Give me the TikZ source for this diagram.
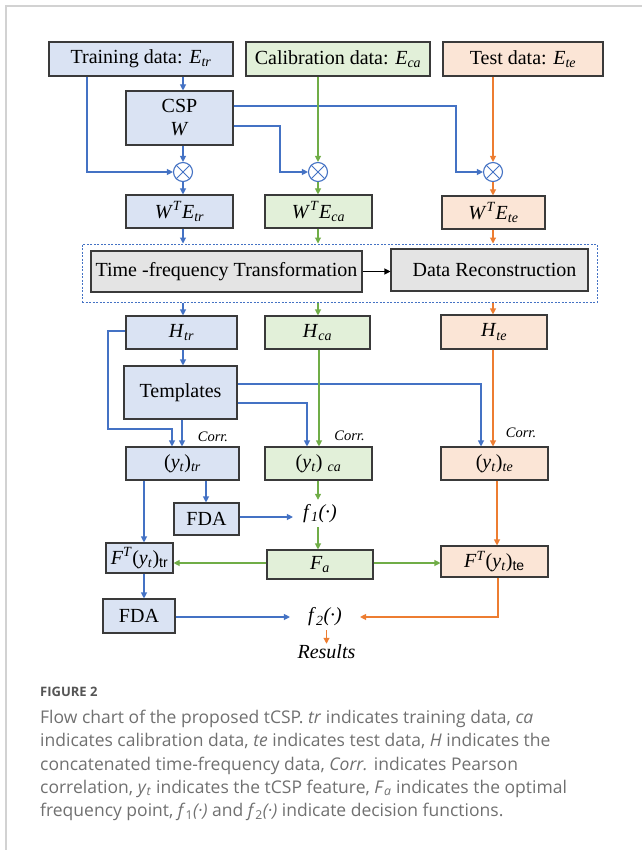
\documentclass[tikz,border=0pt]{standalone}
\usepackage{fontspec}
\setmainfont{Liberation Serif}
\setsansfont{Liberation Sans}
\newfontfamily\capfont{Open Sans}
\usetikzlibrary{arrows.meta,calc}
\definecolor{cblue}{HTML}{4472C4}
\definecolor{cgreen}{HTML}{70AD47}
\definecolor{corange}{HTML}{ED7D31}
\definecolor{fblue}{HTML}{DAE3F3}
\definecolor{fgreen}{HTML}{E2F0D9}
\definecolor{forange}{HTML}{FBE5D6}
\definecolor{fgray}{HTML}{E4E4E4}
\definecolor{boxline}{HTML}{3A3A3A}
\definecolor{framegray}{HTML}{D2D2D2}
\definecolor{captext}{HTML}{707070}
\definecolor{capfigc}{HTML}{555555}
\tikzset{
  box/.style={draw=boxline, line width=1.1pt, inner sep=0pt, font=\fontsize{20}{23}\selectfont, text=black, align=center},
  bbox/.style={box, fill=fblue},
  gbox/.style={box, fill=fgreen},
  obox/.style={box, fill=forange},
  kbox/.style={box, fill=fgray},
  tip/.style={-{Triangle[length=6pt,width=6pt]}},
  ba/.style={draw=cblue, line width=1.1pt, tip},
  ga/.style={draw=cgreen, line width=1.1pt, tip},
  oa/.style={draw=corange, line width=1.1pt, tip},
  ka/.style={draw=black, line width=1.1pt, tip},
  mult/.style={circle, draw=cblue, fill=white, line width=1.1pt, minimum size=19pt, inner sep=0pt},
  corrlab/.style={font=\fontsize{14.5}{16}\selectfont\itshape, inner sep=0pt},
  ftext/.style={font=\fontsize{20}{23}\selectfont, inner ysep=0pt},
  captxt/.style={font=\capfont\fontsize{17.5}{20}\selectfont, text=captext, inner sep=0pt, anchor=base west},
  capfig/.style={font=\capfont\bfseries\fontsize{13}{16}\selectfont, text=capfigc, inner sep=0pt, anchor=base west}
}
\newcommand{\ssub}[1]{\textsubscript{\textit{#1}}}
\newcommand{\ssup}[1]{\textsuperscript{\textit{#1}}}
\begin{document}
\begin{tikzpicture}[x=1pt,y=-1pt]
\useasboundingbox (0,0) rectangle (642,850);
\draw[draw=framegray, line width=1.5pt] (6,850) -- (6,6) -- (642,6);

% top row
\node[bbox, minimum width=184pt, minimum height=34pt] (tr) at (141,59) {Training data: \textit{E}\ssub{tr}};
\node[gbox, minimum width=184pt, minimum height=34pt] (ca) at (338,59) {Calibration data: \textit{E}\ssub{ca}};
\node[obox, minimum width=160pt, minimum height=34pt] (te) at (523,59) {Test data: \textit{E}\ssub{te}};

\node[bbox, minimum width=107pt, minimum height=54pt] (csp) at (179.5,118) {CSP\\\textit{W}};

\node[mult] (c1) at (183,172) {};
\node[mult] (c2) at (318,172) {};
\node[mult] (c3) at (493,172) {};
\foreach \c in {c1,c2,c3}{
  \draw[draw=cblue, line width=1pt] (\c.north east) -- (\c.south west);
  \draw[draw=cblue, line width=1pt] (\c.north west) -- (\c.south east);
}

\node[bbox, minimum width=107pt, minimum height=33pt] (wtr) at (179.5,211.5) {\textit{W}\ssup{T}\textit{E}\ssub{tr}};
\node[gbox, minimum width=107pt, minimum height=33pt] (wca) at (318.5,211.5) {\textit{W}\ssup{T}\textit{E}\ssub{ca}};
\node[obox, minimum width=103pt, minimum height=33pt] (wte) at (493.5,212.5) {\textit{W}\ssup{T}\textit{E}\ssub{te}};

% processing block
\node[draw=cblue, line width=1pt, dash pattern=on 2pt off 1.5pt, minimum width=515pt, minimum height=58pt, inner sep=0pt] (proc) at (339.5,273) {};
\node[kbox, minimum width=271pt, minimum height=41pt] (tf) at (226.5,271.5) {Time -frequency Transformation};
\node[kbox, minimum width=197pt, minimum height=42pt] (dr) at (489.5,270) {\hspace{10pt}Data Reconstruction};

\node[bbox, minimum width=111pt, minimum height=33pt] (htr) at (181.5,332.5) {\textit{H}\ssub{tr}};
\node[gbox, minimum width=105pt, minimum height=33pt] (hca) at (317.5,332.5) {\textit{H}\ssub{ca}};
\node[obox, minimum width=106pt, minimum height=34pt] (hte) at (494,332) {\textit{H}\ssub{te}};

\node[bbox, minimum width=113pt, minimum height=53pt] (tmpl) at (180.5,392.5) {Templates};

\node[bbox, minimum width=113pt, minimum height=33pt] (ytr) at (182.5,463.5) {(\textit{y}\ssub{t})\ssub{tr}};
\node[gbox, minimum width=107pt, minimum height=33pt] (yca) at (318.5,463.5) {(\textit{y}\ssub{t}) \ssub{ca}};
\node[obox, minimum width=107pt, minimum height=33pt] (yte) at (494.5,463.5) {(\textit{y}\ssub{t})\ssub{te}};

\node[corrlab] (k1) at (213,437) {Corr.};
\node[corrlab] (k2) at (349.5,436) {Corr.};
\node[corrlab] (k3) at (521,433) {Corr.};

\node[bbox, minimum width=65pt, minimum height=32pt] (fda1) at (206.5,519) {FDA};
\node[ftext, inner xsep=10pt, minimum height=27pt] (f1) at (320,513.5) {\textit{f}\ssub{1}\textit{(·)}};
\node[gbox, minimum width=106pt, minimum height=29pt] (fa) at (320,564.5) {\textit{F}\ssub{a}};
\node[bbox, minimum width=67pt, minimum height=30pt] (fttr) at (139.5,558) {\textit{F}\ssup{T}(\textit{y}\ssub{t})\textsubscript{\sffamily tr}};
\node[obox, minimum width=107pt, minimum height=31pt] (ftte) at (494.5,561.5) {\textit{F}\ssup{T}(\textit{y}\ssub{t})\textsubscript{\sffamily te}};
\node[bbox, minimum width=72pt, minimum height=34pt] (fda2) at (139,616) {FDA};
\node[ftext, inner xsep=18pt, minimum height=26pt] (f2) at (325,617) {\textit{f}\ssub{2}\textit{(·)}};
\node[ftext, inner ysep=1pt] (res) at (326.5,652) {\textit{Results}};

% connectors
\draw[ba] (tr.south -| c1) -- (csp.north -| c1);
\draw[ba] (tr.south -| 87,0) |- (c1.west);
\draw[ba] (csp.south -| c1) -- (c1.north);
\draw[ba] (c1.south) -- (wtr.north -| c1);
\draw[ba] (csp.east |- 0,106) -- (456,106) |- (c3.west);
\draw[ba] (csp.east |- 0,126) -- (280,126) |- (c2.west);
\draw[ga] (ca.south -| c2) -- (c2.north);
\draw[ga] (c2.south) -- (wca.north -| c2);
\draw[oa] (te.south -| c3) -- (c3.north);
\draw[oa] (c3.south) -- (wte.north -| c3);
\draw[ba] (wtr.south -| c1) -- (proc.north -| c1);
\draw[ga] (wca.south -| c2) -- (proc.north -| c2);
\draw[oa] (wte.south -| c3) -- (proc.north -| c3);
\draw[ka] (tf.east) -- (dr.west |- tf.east);
\draw[ba] (proc.south -| c1) -- (htr.north -| c1);
\draw[ga] (proc.south -| c2) -- (hca.north -| c2);
\draw[oa] (proc.south -| c3) -- (hte.north -| c3);
\draw[ba] (htr.south -| c1) -- (tmpl.north -| c1);
\draw[ba] (htr.west |- 0,331) -- (108,331) |- (172,429) -- (ytr.north -| 172,0);
\draw[ba] (tmpl.south -| 182,0) -- (ytr.north -| 182,0);
\draw[ba] (tmpl.east |- 0,384) -- (481,384) -- (yte.north -| 481,0);
\draw[ba] (tmpl.east |- 0,403) -- (307,403) -- (yca.north -| 307,0);
\draw[ga] (hca.south -| 319,0) -- (yca.north -| 319,0);
\draw[oa] (hte.south -| c3) -- (yte.north -| c3);
\draw[ba] (ytr.south -| 144,0) -- (fttr.north -| 144,0);
\draw[ba] (ytr.south -| 206,0) -- (fda1.north -| 206,0);
\draw[ba] (fda1.east |- 0,517) -- (f1.west |- 0,517);
\draw[ga] (yca.south -| 318,0) -- (f1.north -| 318,0);
\draw[ga] (f1.south -| 318,0) -- (fa.north -| 318,0);
\draw[ga] (fa.west |- 0,563) -- (fttr.east |- 0,563);
\draw[ga] (fa.east |- 0,563) -- (ftte.west |- 0,563);
\draw[oa] (yte.south -| 497,0) -- (ftte.north -| 497,0);
\draw[ba] (fttr.south -| 144,0) -- (fda2.north -| 144,0);
\draw[ba] (fda2.east |- f2.west) -- (f2.west);
\draw[oa] (ftte.south -| 498,0) |- (f2.east);
\draw[oa] (f2.south -| res) -- (res.north);

% caption
\node[capfig] (figlab) at (40,696) {FIGURE 2};
\node[captxt] (cap1) at (40,723.3) {Flow chart of the proposed tCSP. \textit{tr} indicates training data, \textit{ca}};
\node[captxt] (cap2) at (40,746.7) {indicates calibration data, \textit{te} indicates test data, \textit{H} indicates the};
\node[captxt] (cap3) at (40,770) {concatenated time-frequency data, \textit{Corr.} indicates Pearson};
\node[captxt] (cap4) at (40,793.3) {correlation, \textit{y}\textsubscript{\textit{t}} indicates the tCSP feature, \textit{F}\textsubscript{\textit{a}} indicates the optimal};
\node[captxt] (cap5) at (40,816.5) {frequency point, \textit{f}\textsubscript{1}\textit{(·)} and \textit{f}\textsubscript{2}\textit{(·)} indicate decision functions.};
\end{tikzpicture}
\end{document}
